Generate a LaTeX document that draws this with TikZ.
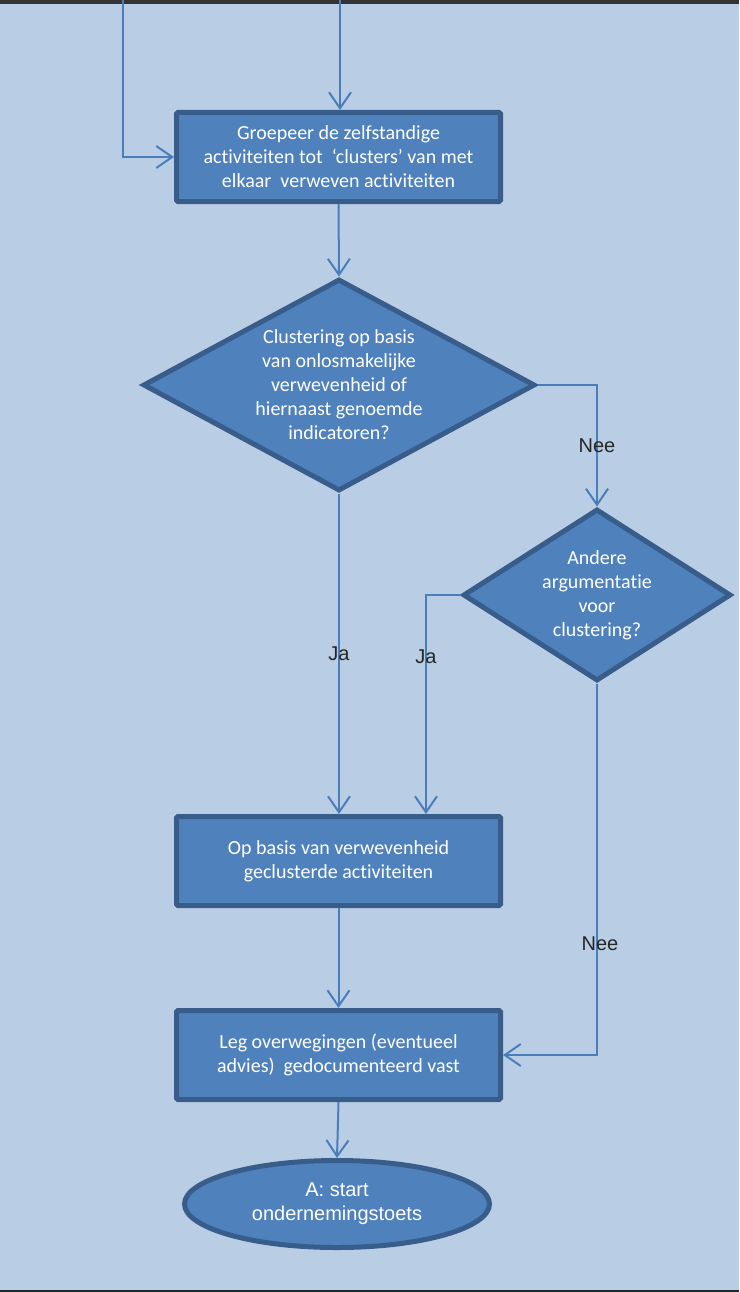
\documentclass[tikz,border=0pt]{standalone}
\usepackage{fontspec}
\setmainfont{Carlito}[Ligatures=NoCommon]
\newfontfamily\arialfont{Liberation Sans}
\usetikzlibrary{shapes.geometric,arrows.meta}
\definecolor{achter}{HTML}{B9CDE5}
\definecolor{vulling}{HTML}{4F81BD}
\definecolor{rand}{HTML}{385D8A}
\definecolor{lijn}{HTML}{4A7EBB}

\begin{document}
\begin{tikzpicture}[x=1pt,y=-1pt,
  blok/.style={draw=rand,fill=vulling,line width=5pt,rounded corners=1.5pt,minimum width=324pt,minimum height=89pt,align=center,text=white,font=\fontsize{20}{24}\selectfont},
  keuze/.style={diamond,draw=rand,fill=vulling,line width=5pt,inner sep=0pt,align=center,text=white,font=\fontsize{20}{24}\selectfont},
  pijl/.style={draw=lijn,line width=2pt,-{Straight Barb[length=16pt,width=22pt]}},
  tekst/.style={font=\arialfont\fontsize{20}{24}\selectfont,text=black!85}]
\useasboundingbox (0,0) rectangle (739,1292);
\fill[achter](0,0) rectangle (739,1292);
\draw[black!80,line width=4pt](0,2)--(739,2);
\draw[black!85,line width=2pt](0,1291)--(739,1291);

\node[blok] (groep) at (338.5,157) {Groepeer de zelfstandige\\activiteiten tot\ \ ‘clusters’ van met\\elkaar\ \ verweven activiteiten};
\node[keuze,minimum width=392pt,minimum height=212pt,shape aspect=1.85] (clust) at (339,385) {Clustering op basis\\van onlosmakelijke\\verwevenheid of\\hiernaast genoemde\\indicatoren?};
\node[keuze,minimum width=268pt,minimum height=172pt,shape aspect=1.55] (ander) at (597,595) {Andere\\argumentatie\\voor\\clustering?};
\node[blok] (verw) at (338.5,861) {Op basis van verwevenheid\\geclusterde activiteiten};
\node[blok] (vast) at (338.5,1055) {Leg overwegingen (eventueel\\advies)\ \ gedocumenteerd vast};
\node[ellipse,draw=rand,fill=vulling,line width=5pt,minimum width=305pt,minimum height=87pt,align=center,text=white,font=\arialfont\fontsize{20}{24}\selectfont] (start) at (337,1204) {A: start\\ondernemingstoets};

\coordinate (inboven) at (340,0);
\coordinate (inlinks) at (123,0);
\draw[pijl](inboven)--(groep.north-|inboven);
\draw[pijl](inlinks)|-(groep.west);
\draw[pijl](groep.south)--(clust.north);
\draw[pijl](clust.east)-|node[tekst,pos=0.75]{Nee}(ander.north);
\draw[pijl](clust.south)--node[tekst]{Ja}(verw.north-|clust.south);
\draw[pijl](ander.west)-|node[tekst,pos=0.64]{Ja}([xshift=87.5pt]verw.north);
\draw[pijl](verw.south)--(vast.north);
\draw[pijl](ander.south)|-node[tekst,pos=0.35,xshift=3pt]{Nee}(vast.east);
\draw[pijl](vast.south)--(start.north);
\end{tikzpicture}
\end{document}
